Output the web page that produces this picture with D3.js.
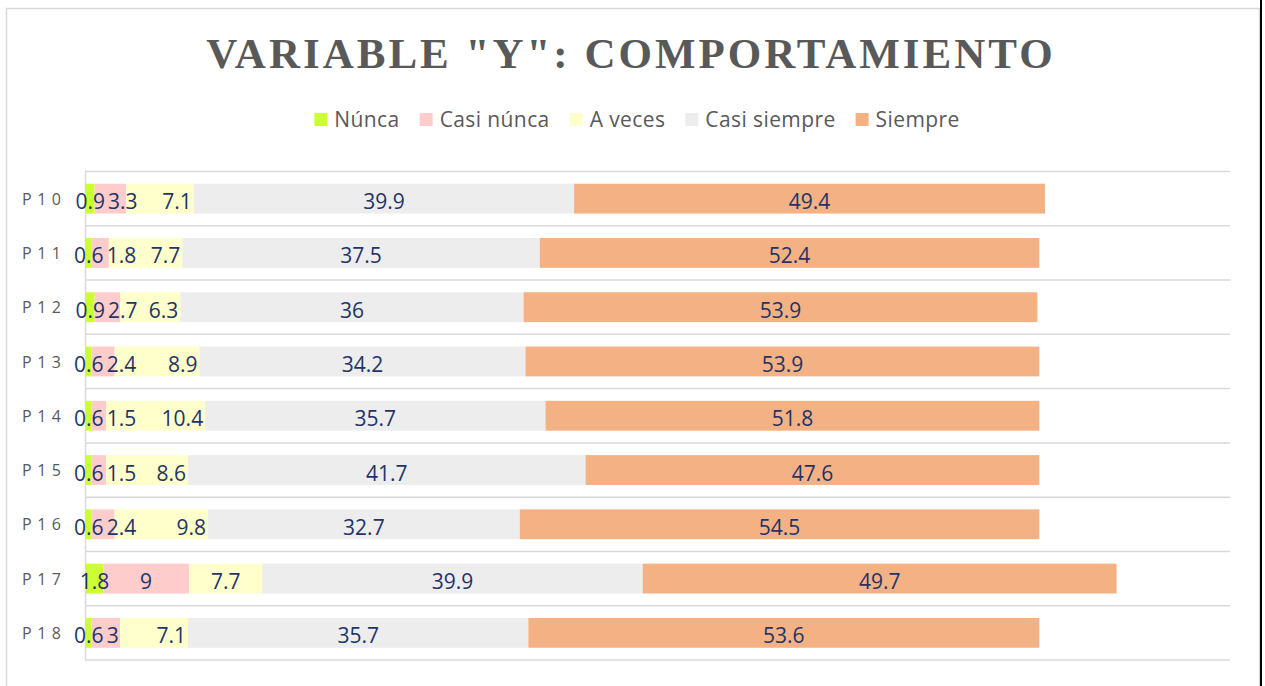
<!DOCTYPE html>
<meta charset="utf-8">
<head>
  <title>Variable Y: Comportamiento</title>
  <script src="https://d3js.org/d3.v7.min.js"></script>
  <style>
    body { margin: 0; background: #fff; }
  </style>
</head>
<body>
<div id="chart"></div>
<script>
  // data
  const questions = ["P10", "P11", "P12", "P13", "P14", "P15", "P16", "P17", "P18"];
  const levels = ["Núnca", "Casi núnca", "A veces", "Casi siempre", "Siempre"];
  const nunca       = [0.9, 0.6, 0.9, 0.6, 0.6, 0.6, 0.6, 1.8, 0.6];
  const casiNunca   = [3.3, 1.8, 2.7, 2.4, 1.5, 1.5, 2.4, 9, 3];
  const aVeces      = [7.1, 7.7, 6.3, 8.9, 10.4, 8.6, 9.8, 7.7, 7.1];
  const casiSiempre = [39.9, 37.5, 36, 34.2, 35.7, 41.7, 32.7, 39.9, 35.7];
  const siempre     = [49.4, 52.4, 53.9, 53.9, 51.8, 47.6, 54.5, 49.7, 53.6];
  const colors = ["#ccff33", "#ffcccc", "#ffffcc", "#ededed", "#f4b183"];

  const width = 1265, height = 686;
  const rows = questions.map((q, i) => ({
    q: q, "Núnca": nunca[i], "Casi núnca": casiNunca[i], "A veces": aVeces[i],
    "Casi siempre": casiSiempre[i], "Siempre": siempre[i]
  }));

  const svg = d3.select("#chart").append("svg")
    .attr("width", width).attr("height", height)
    .style("display", "block");

  svg.append("rect").attr("width", width).attr("height", height).attr("fill", "#fff");

  // chart frame
  svg.append("path")
    .attr("d", "M6.5," + height + "V8.5H1259.5V" + height)
    .attr("fill", "none").attr("stroke", "#d9d9d9").attr("stroke-width", 1.5);
  svg.append("line")
    .attr("x1", 1261).attr("x2", 1261).attr("y1", 0).attr("y2", height)
    .attr("stroke", "#000").attr("stroke-width", 2);

  // title
  svg.append("text")
    .attr("x", 631).attr("y", 68)
    .attr("text-anchor", "middle")
    .style("font-family", "'Liberation Serif', 'Times New Roman', serif")
    .style("font-weight", "bold").style("font-size", "43px")
    .style("letter-spacing", "3px")
    .attr("fill", "#595959")
    .text('VARIABLE "Y": COMPORTAMIENTO');

  // scales
  const x = d3.scaleLinear().domain([0, 120]).range([86, 1230]);
  const y = d3.scaleBand().domain(questions).range([171.5, 660])
    .paddingInner(0.45).paddingOuter(0.225);
  const color = d3.scaleOrdinal().domain(levels).range(colors);

  // gridlines on band boundaries
  const bounds = d3.range(questions.length + 1).map(i => y.range()[0] + i * y.step());
  svg.append("g").selectAll("line").data(bounds).enter().append("line")
    .attr("x1", 85).attr("x2", 1230)
    .attr("y1", d => d).attr("y2", d => d)
    .attr("stroke", "#d9d9d9").attr("stroke-width", 1.5);
  svg.append("line")
    .attr("x1", 85.5).attr("x2", 85.5).attr("y1", bounds[0]).attr("y2", bounds[bounds.length - 1])
    .attr("stroke", "#d9d9d9").attr("stroke-width", 1.5);

  // stacked bars
  const series = d3.stack().keys(levels)(rows);
  const layer = svg.append("g").selectAll("g").data(series).enter().append("g")
    .attr("fill", d => color(d.key));
  layer.selectAll("rect").data(d => d).enter().append("rect")
    .attr("x", d => x(d[0]))
    .attr("width", d => x(d[1]) - x(d[0]))
    .attr("y", d => y(d.data.q))
    .attr("height", y.bandwidth());

  // value labels: centred, pushed right when the thin segments collide
  const labels = svg.append("g");
  rows.forEach((r, i) => {
    let prevRight = -Infinity, crowded = false;
    series.forEach(s => {
      const d = s[i];
      const t = labels.append("text")
        .attr("y", y(r.q) + y.bandwidth() / 2)
        .attr("dy", "0.5em")
        .attr("text-anchor", "middle")
        .style("font-family", "'Open Sans', sans-serif")
        .style("font-size", "21px")
        .attr("fill", "#1f3468")
        .text(r[s.key]);
      const w = t.node().getComputedTextLength();
      let cx = (x(d[0]) + x(d[1])) / 2;
      if (s.key === "A veces" && crowded) cx = x(d[1]) - 2 - w / 2;
      if (cx - w / 2 < prevRight + 3) { cx = prevRight + 3 + w / 2; crowded = true; }
      t.attr("x", cx);
      prevRight = cx + w / 2;
    });
  });

  // category labels
  svg.append("g").selectAll("text").data(questions).enter().append("text")
    .attr("x", 22)
    .attr("y", d => y(d) + y.bandwidth() / 2)
    .attr("dy", "0.38em")
    .style("font-family", "'Open Sans', sans-serif")
    .style("font-size", "16px")
    .style("letter-spacing", "5.5px")
    .attr("fill", "#595959")
    .text(d => d);

  // legend
  const legend = svg.append("g");
  let lx = 0;
  levels.forEach(k => {
    const g = legend.append("g").attr("transform", "translate(" + lx + ",0)");
    g.append("rect").attr("x", 0).attr("y", 113).attr("width", 13).attr("height", 13)
      .attr("fill", color(k));
    const t = g.append("text").attr("x", 20).attr("y", 127)
      .style("font-family", "'Open Sans', sans-serif")
      .style("font-size", "21px")
      .style("letter-spacing", "0.4px")
      .attr("fill", "#595959")
      .text(k);
    lx += 20 + t.node().getComputedTextLength() + 20;
  });
  const legendW = lx - 20;
  legend.attr("transform", "translate(" + (637 - legendW / 2) + ",0)");
</script>
</body>
